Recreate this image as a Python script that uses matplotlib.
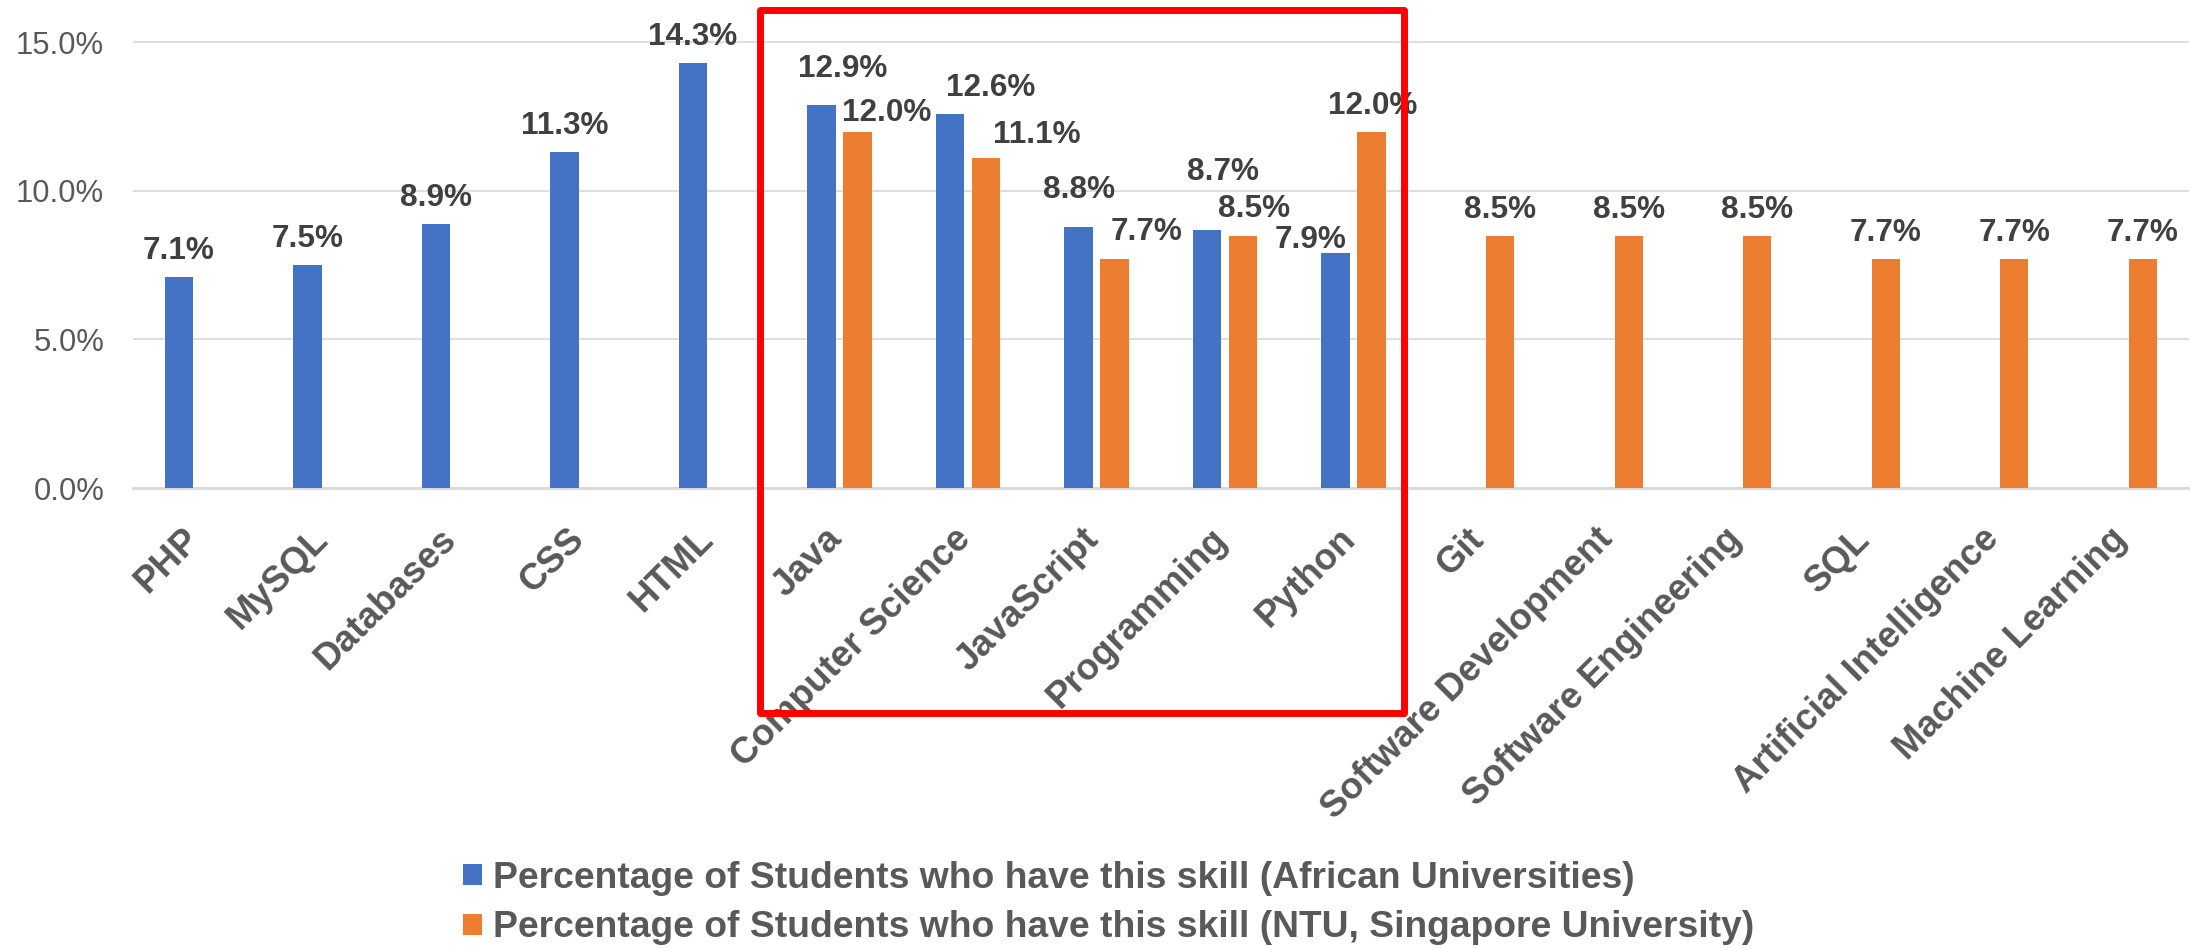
import numpy as np
import matplotlib
matplotlib.use("Agg")
import matplotlib.pyplot as plt
from matplotlib.patches import Rectangle
from matplotlib.transforms import ScaledTranslation

plt.rcParams['font.family'] = ['Liberation Sans', 'DejaVu Sans']

# --- Data ---
skills = ["PHP", "MySQL", "Databases", "CSS", "HTML", "Java", "Computer Science",
          "JavaScript", "Programming", "Python", "Git", "Software Development",
          "Software Engineering", "SQL", "Artificial Intelligence", "Machine Learning"]
african = [7.1, 7.5, 8.9, 11.3, 14.3, 12.9, 12.6, 8.8, 8.7, 7.9,
           np.nan, np.nan, np.nan, np.nan, np.nan, np.nan]
ntu = [np.nan, np.nan, np.nan, np.nan, np.nan, 12.0, 11.1, 7.7, 8.5, 12.0,
       8.5, 8.5, 8.5, 7.7, 7.7, 7.7]
series_names = ["Percentage of Students who have this skill (African Universities)",
                "Percentage of Students who have this skill (NTU, Singapore University)"]
yticks = [0, 5, 10, 15]

# label nudges in pixels (dx, gap above bar), the picture has some labels moved by hand
blue_dx = [0, 0, 0, 0, 0, 21, 41, 0, 16, -25, 0, 0, 0, 0, 0, 0]
blue_gap = [18, 18, 18, 18, 18, 28, 18, 29, 50, 5, 18, 18, 18, 18, 18, 18]
orange_dx = [0, 0, 0, 0, 0, 29, 51, 32, 11, 1, 0, 0, 0, 0, 0, 0]
orange_gap = [18, 18, 18, 18, 18, 11, 15, 19, 19, 18, 18, 18, 18, 18, 18, 18]

BLUE = "#4472C4"
ORANGE = "#ED7D31"
TXT = "#595959"
LBL = "#404040"

W, H = 2190, 949
fig = plt.figure(figsize=(W / 100, H / 100), dpi=100)
ax = fig.add_axes([132.7 / W, 1 - 488 / H, (2189 - 132.7) / W, 488 / H])

x = np.arange(len(skills))
bw = 0.22
off = 0.14
b1 = ax.bar(x - off, african, bw, color=BLUE, label=series_names[0], zorder=3)
b2 = ax.bar(x + off, ntu, bw, color=ORANGE, label=series_names[1], zorder=3)

px = 72 / 100  # pixels -> points
for i in range(len(skills)):
    if not np.isnan(african[i]):
        ax.annotate(f"{african[i]:.1f}%", (x[i] - off, african[i]),
                    xytext=(blue_dx[i] * px, blue_gap[i] * px), textcoords="offset points",
                    ha="center", va="baseline", fontsize=22.7, fontweight="bold", color=LBL)
    if not np.isnan(ntu[i]):
        ax.annotate(f"{ntu[i]:.1f}%", (x[i] + off, ntu[i]),
                    xytext=(orange_dx[i] * px, orange_gap[i] * px), textcoords="offset points",
                    ha="center", va="baseline", fontsize=22.7, fontweight="bold", color=LBL)

ax.set_xlim(-0.5, len(skills) - 0.5)
ax.set_ylim(0, 16.43)
ax.set_yticks(yticks)
ax.set_yticklabels([f"{v:.1f}%" for v in yticks], fontsize=22.3, color=TXT)
ax.yaxis.grid(True, color="#D9D9D9", linewidth=1.2, zorder=0)
ax.set_axisbelow(True)
for s in ["top", "right", "left"]:
    ax.spines[s].set_visible(False)
ax.spines["bottom"].set_color("#D9D9D9")
ax.spines["bottom"].set_linewidth(2)
ax.tick_params(axis="y", length=0, pad=20.5)
ax.tick_params(axis="x", length=0, pad=33)

ax.set_xticks(x)
ax.set_xticklabels(skills, rotation=45, ha="right", va="center", rotation_mode="anchor",
                   fontsize=26.5, fontweight="bold", color=TXT)
shift = ScaledTranslation(-3 / 100, 0, fig.dpi_scale_trans)
for lbl in ax.get_xticklabels():
    lbl.set_transform(lbl.get_transform() + shift)

fig.legend(handles=[b1, b2], labels=series_names, loc="center left",
           bbox_to_anchor=(463 / W, 1 - 903 / H), frameon=False,
           prop={"size": 26.8, "weight": "bold"}, labelcolor=TXT,
           handlelength=0.51, handleheight=0.51, handletextpad=0.3,
           labelspacing=0.4, borderpad=0, borderaxespad=0)

# red highlight box
fig.patches.append(Rectangle((760 / W, 1 - 713 / H), (1404 - 760) / W, (713 - 10) / H,
                             transform=fig.transFigure, fill=False, edgecolor="#FF0000",
                             linewidth=5, joinstyle="round", zorder=10))

fig.savefig("out.png", dpi=100)
